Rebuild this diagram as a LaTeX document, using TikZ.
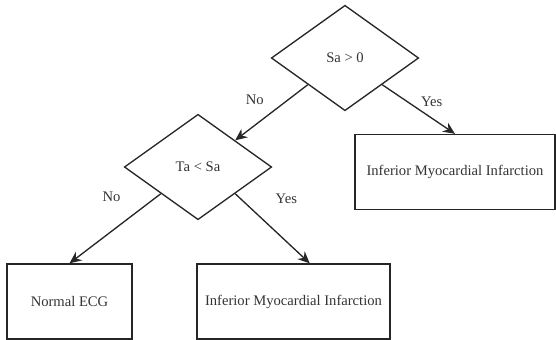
\documentclass[tikz,border=0pt]{standalone}
\usepackage{fontspec}
\setmainfont{Liberation Serif}
\usepackage{tikz}
\usetikzlibrary{shapes,arrows.meta}

\begin{document}
\begin{tikzpicture}
\tikzstyle{every node} = [font=\fontsize{11}{13}\selectfont, text=black!80]
\tikzstyle{decision} = [draw=black!85, line width=1pt, diamond, inner sep=0pt, minimum width=3.9cm, minimum height=2.79cm]
\tikzstyle{outcome} = [draw=black!85, line width=1.1pt, rectangle, minimum height=1.98cm]
\tikzstyle{branch} = [draw=black!85, line width=1pt, -{Stealth[length=9pt,width=8pt,inset=3pt]}]
\useasboundingbox (0,0) rectangle (14.711,8.996);

\draw (9.128,7.461) node[decision] (sa) {Sa > 0};
\draw (5.239,4.577) node[decision] (ta) {Ta < Sa};

\draw (1.839,1.019) node[outcome,minimum width=3.307cm] (normal) {Normal ECG};
\draw (7.765,1.019) node[outcome,minimum width=5.106cm] (imiLeft) {Inferior Myocardial Infarction};
\draw (12.038,4.445) node[outcome,minimum width=5.292cm] (imiRight) {Inferior Myocardial Infarction};

\draw[branch] (sa.south west) -- node[pos=.5,above left=2pt] (noSa) {No} (ta.north east);
\draw[branch] (sa.south east) -- node[pos=.5,above right=-2pt] (yesSa) {Yes} (imiRight.north);
\draw[branch] (ta.south west) -- node[pos=.3,above left=6pt] (noTa) {No} (normal.north);
\draw[branch] (ta.south east) -- node[pos=.35,above right=7pt] (yesTa) {Yes} ([xshift=0.43cm]imiLeft.north);

\end{tikzpicture}
\end{document}
